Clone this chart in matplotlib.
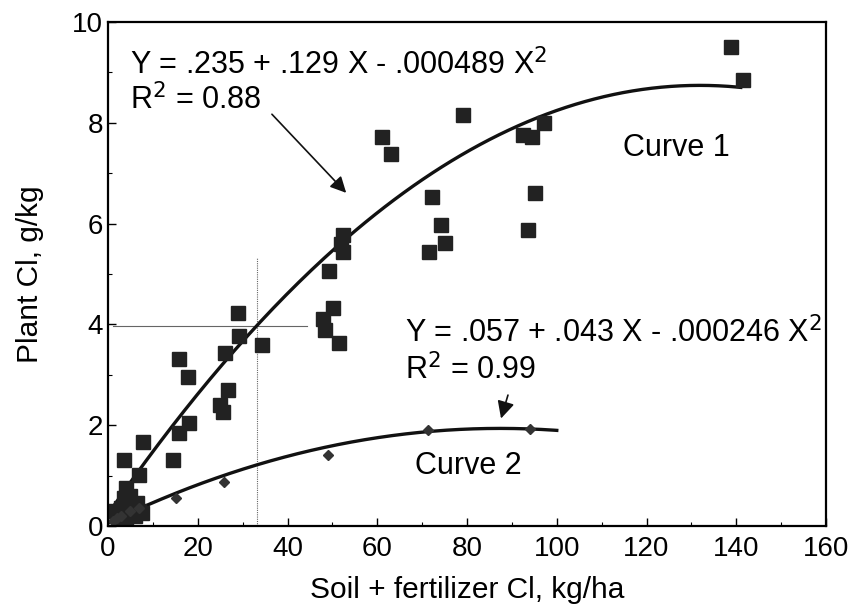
import numpy as np
import matplotlib
matplotlib.use("Agg")
import matplotlib.pyplot as plt

plt.rcParams['font.family'] = ['Liberation Sans', 'DejaVu Sans']

# Curve 1 observations (squares)
curve1X = [138.8, 141.5, 79.1, 61.0, 63.0, 92.5, 94.5, 97.2, 95.1, 93.6,
           72.2, 74.2, 75.1, 71.6, 52.3, 52.3, 52.0, 49.2, 50.1, 48.0, 48.4, 51.5,
           29.0, 29.2, 34.3, 26.1, 15.9, 17.9, 26.8, 25.0, 25.6, 18.1, 15.9,
           7.9, 3.5, 14.5, 6.9,
           2.0, 3.0, 3.5, 4.0, 4.5, 5.0, 5.0, 6.0, 6.5, 7.0, 7.5, 3.0, 4.0, 1.0]
curve1Y = [9.50, 8.85, 8.15, 7.72, 7.38, 7.75, 7.72, 8.00, 6.61, 5.87,
           6.53, 5.97, 5.62, 5.44, 5.77, 5.44, 5.60, 5.06, 4.33, 4.10, 3.89, 3.63,
           4.23, 3.77, 3.59, 3.43, 3.31, 2.96, 2.70, 2.40, 2.27, 2.05, 1.84,
           1.67, 1.31, 1.31, 1.01,
           0.25, 0.35, 0.55, 0.75, 0.45, 0.30, 0.60, 0.20, 0.45, 0.30, 0.25, 0.15, 0.12, 0.30]

# Curve 2 observations (diamonds)
curve2X = [15.2, 25.8, 49.1, 71.3, 94.0, 1.0, 2.0, 3.0, 5.0, 7.0]
curve2Y = [0.56, 0.87, 1.40, 1.90, 1.92, 0.10, 0.15, 0.20, 0.30, 0.35]

# fitted quadratics
coef1 = [0.235, 0.129, -0.000489]
coef2 = [0.057, 0.043, -0.000246]


def quad(c, x):
    return c[0] + c[1] * x + c[2] * x ** 2


fig = plt.figure(figsize=(8.6, 6.08), dpi=100)
ax = fig.add_axes([0.1256, 0.1349, 0.8349, 0.8289])

# reference cross lines
ax.plot([33.2, 33.2], [0, 5.32], color='#666666', lw=0.8, ls=(0, (1, 1)))
ax.plot([1, 44.3], [3.97, 3.97], color='#666666', lw=0.8)

x1 = np.linspace(0, 141, 200)
x2 = np.linspace(0, 100, 200)
ax.plot(x1, quad(coef1, x1), color='#111111', lw=2.4)
ax.plot(x2, quad(coef2, x2), color='#111111', lw=2.4)

ax.plot(curve1X, curve1Y, 's', color='#222222', markersize=10, ls='none')
ax.plot(curve2X, curve2Y, 'D', color='#333333', markersize=5.5, ls='none')

fs = 22
ax.text(4.9, 9.15, "Y = .235 + .129 X - .000489 X$^2$", fontsize=fs, va='center')
ax.text(4.9, 8.45, "R$^2$ = 0.88", fontsize=fs, va='center')
ax.text(66.2, 3.83, "Y = .057 + .043 X - .000246 X$^2$", fontsize=fs, va='center')
ax.text(66.2, 3.10, "R$^2$ = 0.99", fontsize=fs, va='center')
ax.text(114.8, 7.5, "Curve 1", fontsize=fs, va='center')
ax.text(68.4, 1.19, "Curve 2", fontsize=fs, va='center')

ax.annotate("", xy=(53.5, 6.57), xytext=(36.1, 8.21),
            arrowprops=dict(arrowstyle='-|>', color='#111111', lw=1.2,
                            mutation_scale=24))
ax.annotate("", xy=(87.4, 2.08), xytext=(89.3, 2.65),
            arrowprops=dict(arrowstyle='-|>', color='#111111', lw=1.2,
                            mutation_scale=26))

ax.set_xlim(0, 160)
ax.set_ylim(0, 10)
ax.set_xticks(np.arange(0, 161, 20))
ax.set_xticks(np.arange(0, 161, 10), minor=True)
ax.set_yticks(np.arange(0, 11, 2))
ax.set_yticks(np.arange(0, 11, 1), minor=True)
ax.tick_params(which='both', direction='in', labelsize=20)
ax.tick_params(which='major', length=6, width=1)
ax.tick_params(which='minor', length=3, width=0.8)
ax.tick_params(axis='x', pad=7)
for s in ax.spines.values():
    s.set_linewidth(1.6)

ax.set_xlabel("Soil + fertilizer Cl, kg/ha", fontsize=21.5, labelpad=10)
ax.set_ylabel("Plant Cl, g/kg", fontsize=21.5, labelpad=20)

fig.savefig("out.png", dpi=100)
